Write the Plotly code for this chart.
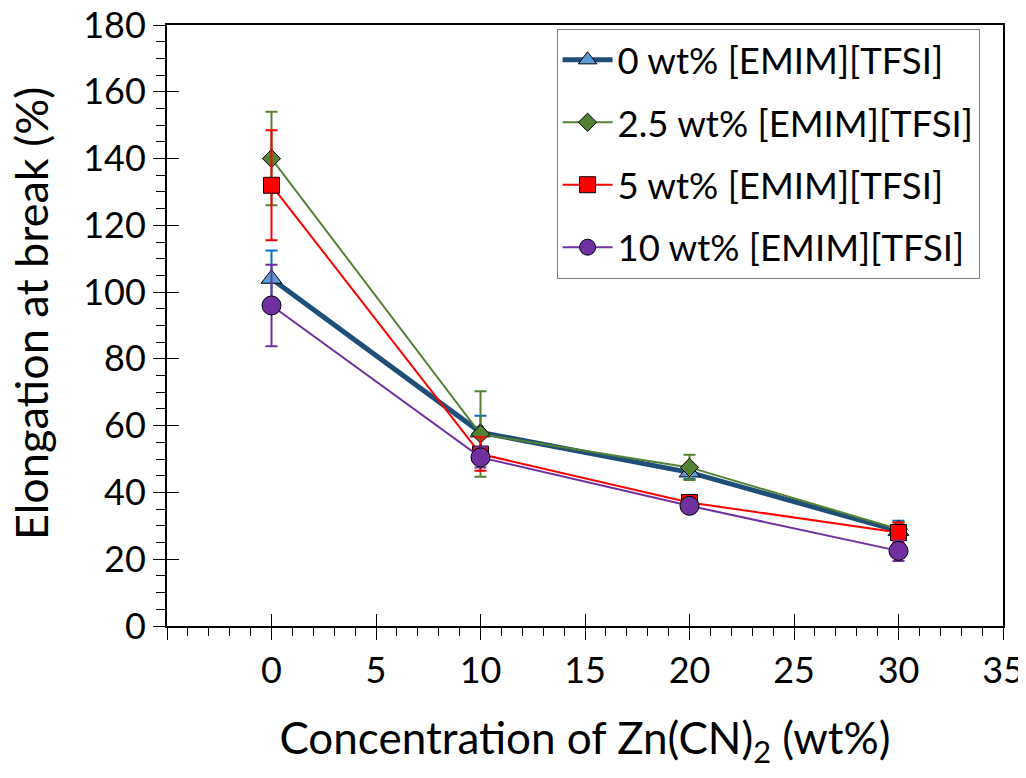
import plotly.graph_objects as go

conc = [0, 10, 20, 30]
names = ["0 wt% [EMIM][TFSI]", "2.5 wt% [EMIM][TFSI]", "5 wt% [EMIM][TFSI]", "10 wt% [EMIM][TFSI]"]
elong_0 = [104, 58, 46, 28.5]
err_0 = [8.5, 5, 2, 3]
elong_25 = [140, 57.5, 47.5, 29]
err_25 = [14, 12.8, 3.8, 2]
elong_5 = [132, 51.5, 37, 28]
err_5 = [16.5, 5, 2, 3]
elong_10 = [96, 50.5, 36, 22.5]
err_10 = [12.2, 3, 2, 3]

x_tickvals = [-5, 0, 5, 10, 15, 20, 25, 30, 35]
x_ticktext = ["", "0", "5", "10", "15", "20", "25", "30", "35"]

styles = [
    dict(line="#1F4E79", lw=5, fill="#5B9BD5", sym="triangle-up", size=18, err="#0070C0"),
    dict(line="#548235", lw=2, fill="#548235", sym="diamond", size=14, err="#548235"),
    dict(line="#FF0000", lw=2, fill="#FF0000", sym="square", size=16, err="#FF0000"),
    dict(line="#7030A0", lw=2, fill="#7030A0", sym="circle", size=19, err="#7030A0"),
]
series = [(elong_0, err_0), (elong_25, err_25), (elong_5, err_5), (elong_10, err_10)]

FONT = "Lato"
TICK = 36
fig = go.Figure()
for i, ((ys, es), st, nm) in enumerate(zip(series, styles, names)):
    fig.add_trace(go.Scatter(
        x=conc, y=ys, name=nm, mode="lines+markers", legendgroup=f"g{i}",
        line=dict(color=st["line"], width=st["lw"]),
        marker=dict(symbol=st["sym"], size=st["size"], color=st["fill"],
                    line=dict(color="black", width=1)),
        error_y=dict(type="data", array=es, visible=True, color=st["err"],
                     thickness=2, width=6),
    ))

# invisible trace on overlay axes for inside (crossing) ticks
fig.add_trace(go.Scatter(x=conc, y=elong_0, xaxis="x2", yaxis="y2", mode="markers",
                         marker=dict(opacity=0), showlegend=False, hoverinfo="skip"))

fig.update_layout(
    width=1018, height=762,
    margin=dict(l=159, r=23, t=17, b=144, autoexpand=False),
    plot_bgcolor="white", paper_bgcolor="white",
    font=dict(family=FONT, color="black", size=TICK),
    showlegend=True,
    legend=dict(
        x=0.466, y=0.994, xanchor="left", yanchor="top",
        bordercolor="#7F7F7F", borderwidth=1, bgcolor="white",
        font=dict(family=FONT, size=36.5, color="black"),
        tracegroupgap=12, itemwidth=50,
    ),
    xaxis=dict(
        range=[-5, 35], tickmode="array", tickvals=x_tickvals, ticktext=x_ticktext,
        ticks="outside", ticklen=12, tickwidth=1.3, tickcolor="black",
        minor=dict(dtick=1, tick0=0, ticks="outside", ticklen=8, tickwidth=1, tickcolor="black", showgrid=False),
        showline=True, linecolor="black", linewidth=2, mirror=True,
        showgrid=False, zeroline=False, automargin=False, ticklabeloverflow="allow",
        tickfont=dict(family=FONT, size=TICK),
        title=dict(text="Concentration of Zn(CN)<sub>2</sub> (wt%)", font=dict(family=FONT, size=44), standoff=36),
    ),
    yaxis=dict(
        range=[0, 180], tickmode="linear", tick0=0, dtick=20,
        ticks="outside", ticklen=12, tickwidth=1.3, tickcolor="black",
        minor=dict(dtick=5, tick0=0, ticks="outside", ticklen=9, tickwidth=1, tickcolor="black", showgrid=False),
        showline=True, linecolor="black", linewidth=2, mirror=True,
        showgrid=False, zeroline=False, automargin=False, ticklabeloverflow="allow",
        tickfont=dict(family=FONT, size=TICK),
    ),
    xaxis2=dict(
        overlaying="x", anchor="y2", side="bottom", range=[-5, 35],
        tickmode="array", tickvals=x_tickvals[1:], ticks="inside", ticklen=12, tickwidth=1.3,
        tickcolor="black", showticklabels=False, showline=False, showgrid=False, zeroline=False,
    ),
    yaxis2=dict(
        overlaying="y", anchor="x2", side="left", range=[0, 180],
        tickmode="linear", tick0=20, dtick=20, ticks="inside", ticklen=12, tickwidth=1.3,
        tickcolor="black", showticklabels=False, showline=False, showgrid=False, zeroline=False,
    ),
    annotations=[dict(
        text="Elongation at break (%)", textangle=-90, showarrow=False,
        xref="paper", yref="paper", x=-0.162, y=0.52, xanchor="center", yanchor="middle",
        font=dict(family=FONT, size=45, color="black"),
    )],
)

fig.write_html("out.html")
